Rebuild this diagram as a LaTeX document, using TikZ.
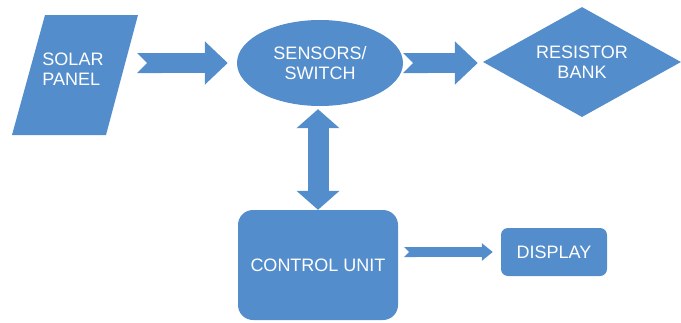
\documentclass[tikz,border=0pt]{standalone}
\usepackage{fontspec}
\setmainfont{Liberation Sans}
\usetikzlibrary{shapes.geometric,arrows.meta}
\definecolor{boxblue}{RGB}{84,141,204}
\tikzset{
  block/.style={fill=boxblue, text=white, font=\fontsize{18}{20}\selectfont, align=center, inner sep=0pt},
  bigflow/.style={draw=boxblue, line width=20pt, {Triangle Cap[reversed]}-{Triangle[width=42pt,length=23pt]}},
  smallflow/.style={draw=boxblue, line width=10pt, {Triangle Cap[reversed]}-{Triangle[width=17pt,length=11pt]}},
  twoway/.style={draw=boxblue, line width=21pt, {Triangle[width=42pt,length=19pt]}-{Triangle[width=42pt,length=19pt]}}
}
\begin{document}
\begin{tikzpicture}[x=1pt,y=-1pt]
\useasboundingbox (0,0) rectangle (681,322);

\fill[boxblue] (45,15) -- (138,15) -- (106,135) -- (12,135) -- cycle;
    \node[block, fill=none, minimum width=110pt, minimum height=110pt, align=left] (panel) at (73,69) {SOLAR\\PANEL};
    \node[block, ellipse, minimum width=166pt, minimum height=86pt] (sens) at (320,63) {SENSORS/\\SWITCH};
    \node[block, diamond, aspect=1.8, minimum width=198pt, minimum height=110pt] (bank) at (582,62) {RESISTOR\\BANK};
    \node[block, rounded corners=15pt, minimum width=160pt, minimum height=110pt] (ctrl) at (318,265) {CONTROL UNIT};
    \node[block, rounded corners=7pt, minimum width=106pt, minimum height=48pt] (disp) at (554,252) {DISPLAY};

\draw[bigflow, shorten <=9pt, shorten >=9pt] (panel.east |- sens.west) -- (sens.west);
\draw[bigflow, shorten >=5pt] (sens.east) -- (sens.east -| bank.west);
\draw[smallflow, shorten <=6pt, shorten >=8pt] (ctrl.east |- disp.west) -- (disp.west);
\draw[twoway, shorten >=3pt] (ctrl.north) -- (ctrl.north |- sens.south);

\end{tikzpicture}
\end{document}
